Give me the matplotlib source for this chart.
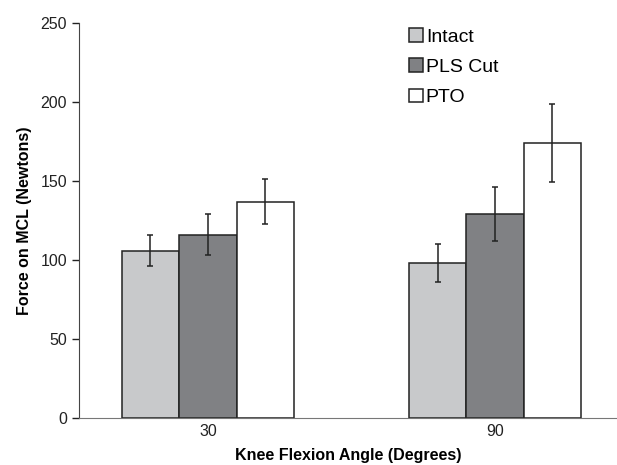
import matplotlib
matplotlib.use("Agg")
import matplotlib.pyplot as plt
import numpy as np

plt.rcParams["font.family"] = ["Liberation Sans", "DejaVu Sans"]

# data
angles = ["30", "90"]
conditions = ["Intact", "PLS Cut", "PTO"]
intact = [106, 98]
pls_cut = [116, 129]
pto = [137, 174]
intact_err = [10, 12]
pls_cut_err = [13, 17]
pto_err = [14.5, 24.5]

colors = ["#c8c9cb", "#808184", "#ffffff"]

fig = plt.figure(figsize=(6.17, 4.65), dpi=100)
ax = fig.add_axes([0.128, 0.1011, 0.872, 0.8495])

x = np.arange(len(angles))
width = 0.2
series = [intact, pls_cut, pto]
errs = [intact_err, pls_cut_err, pto_err]
for i in range(3):
    ax.bar(x + (i - 1) * width, series[i], width, color=colors[i],
           edgecolor="#222222", linewidth=1.1, label=conditions[i], zorder=2)
    ax.errorbar(x + (i - 1) * width, series[i], yerr=errs[i], fmt="none",
                ecolor="#222222", elinewidth=1.1, capsize=2.5, capthick=1.1, zorder=3)

ax.set_xlim(-0.449, 1.425)
ax.set_ylim(0, 250)
ax.set_yticks([0, 50, 100, 150, 200, 250])
ax.set_xticks(x)
ax.set_xticklabels(angles)
ax.tick_params(axis="x", length=0, labelsize=11.5, pad=4, colors="#222222")
ax.tick_params(axis="y", length=5, width=1, labelsize=11.5, colors="#222222", direction="out")
for s in ["top", "right"]:
    ax.spines[s].set_visible(False)
ax.spines["left"].set_color("#444444")
ax.spines["bottom"].set_color("#777777")

ax.set_ylabel("Force on MCL (Newtons)", fontsize=11.5, fontweight="bold", labelpad=6)
ax.set_xlabel("Knee Flexion Angle (Degrees)", fontsize=11.5, fontweight="bold", labelpad=7)

ax.legend(loc="upper left", bbox_to_anchor=(0.647, 0.961), bbox_transform=fig.transFigure,
          frameon=False, fontsize=14, handlelength=0.72, handleheight=0.72,
          handletextpad=0.15, labelspacing=0.65, borderpad=0)

fig.savefig("out.png", dpi=100)
